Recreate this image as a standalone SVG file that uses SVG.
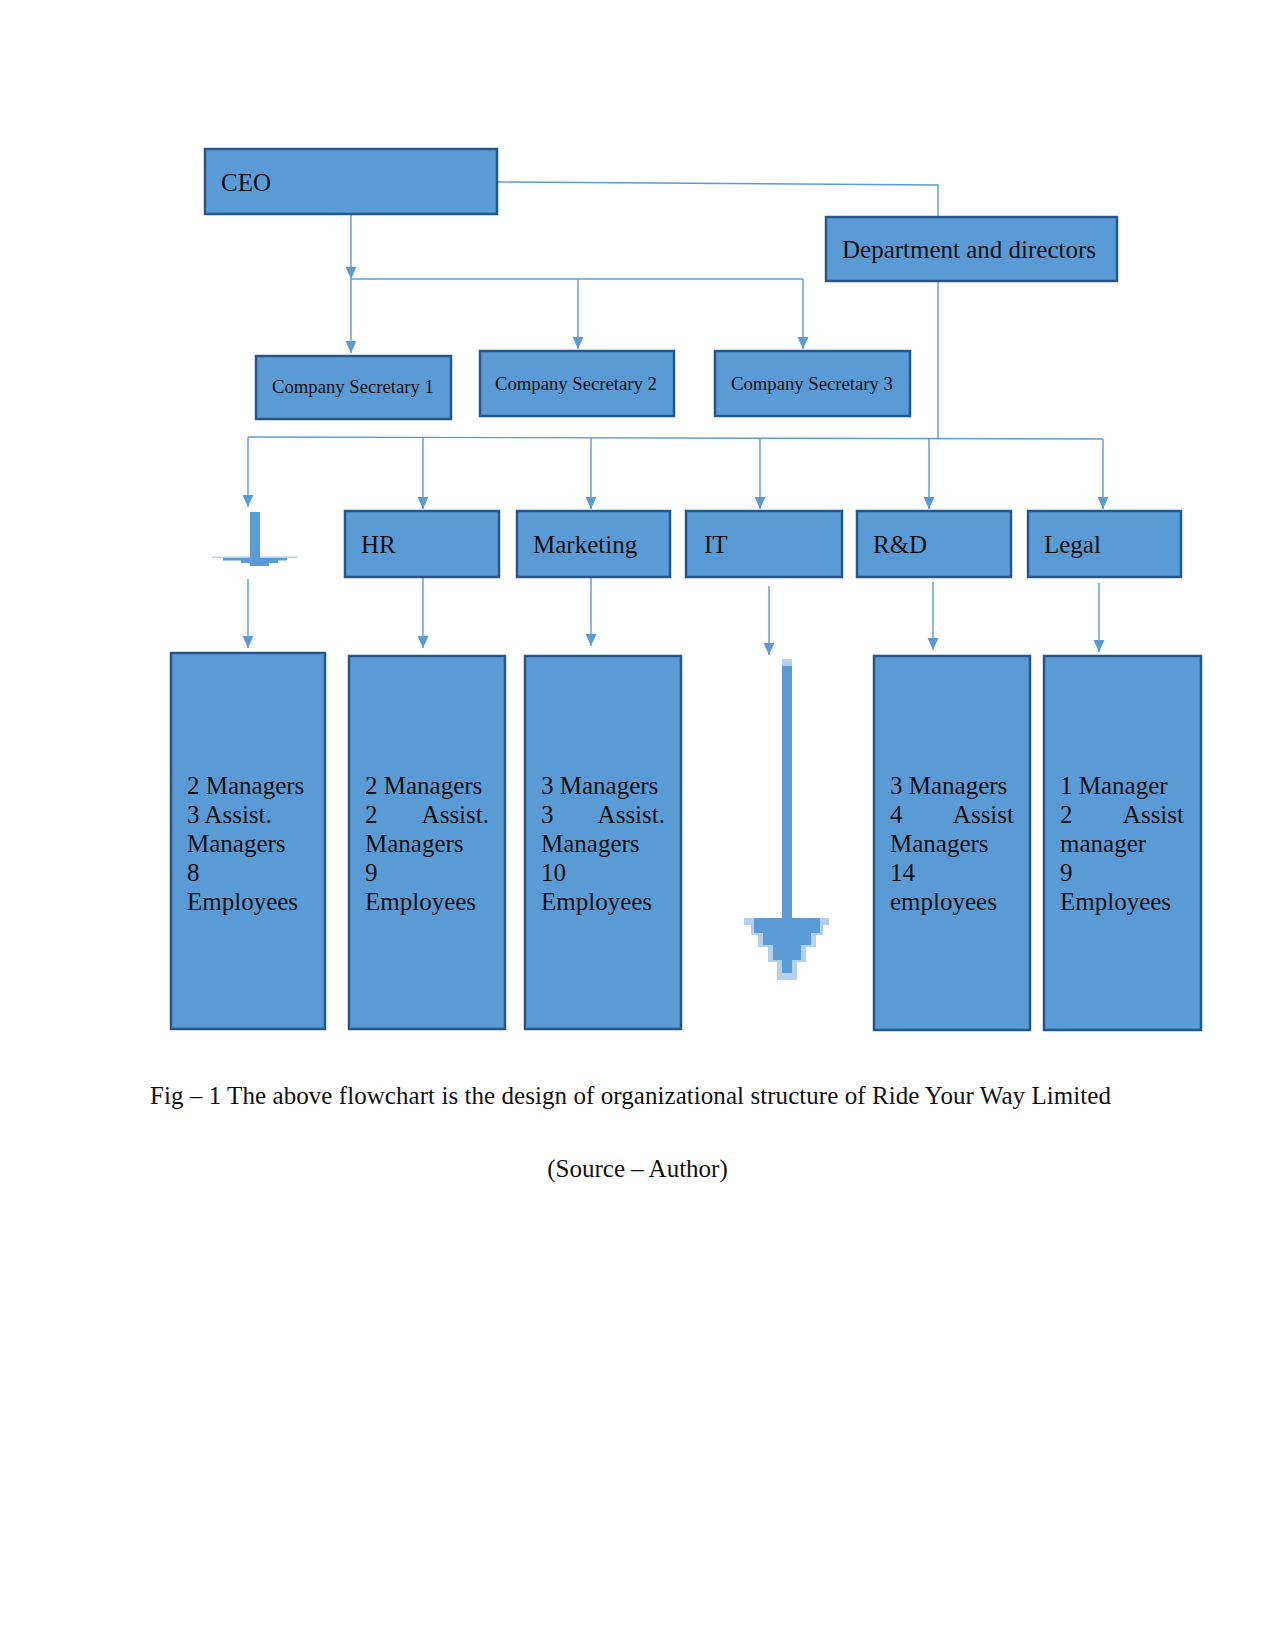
<svg xmlns="http://www.w3.org/2000/svg" width="1275" height="1650" viewBox="0 0 1275 1650">
<style>
.box{fill:#5b9bd5;stroke:#25578a;stroke-width:2.5}
.t{font-family:"Liberation Serif","Times New Roman",serif;font-size:25px;fill:#111}
.ts{font-family:"Liberation Serif","Times New Roman",serif;font-size:18.7px;fill:#111}
.c{fill:none;stroke:#5b9bd5;stroke-width:1.4}
.a{marker-end:url(#arr)}
.big{fill:#5b9bd5}
.lt{fill:#b5d0ec}
</style>
<defs>
<marker id="arr" markerUnits="userSpaceOnUse" viewBox="0 -6 12 12" refX="12" refY="0" markerWidth="12" markerHeight="12" orient="auto">
<path d="M0,-5.5 L12,0 L0,5.5 z" fill="#5b9bd5"/>
</marker>
</defs>
<rect width="1275" height="1650" fill="#fff"/>

<g id="connectors">
<path class="c" d="M497,182 L938,185 L938,217"/>
<path class="c a" d="M351,214 L351,279"/>
<path class="c a" d="M351,279 L351,353"/>
<path class="c" d="M351,279 L803,279"/>
<path class="c a" d="M578,279 L578,349"/>
<path class="c a" d="M803,279 L803,349"/>
<path class="c" d="M938,281 L938,438"/>
<path class="c" d="M248,437 L1103,439"/>
<path class="c a" d="M248,437 L248,507"/>
<path class="c a" d="M423,437 L423,509"/>
<path class="c a" d="M591,438 L591,509"/>
<path class="c a" d="M760,438 L760,509"/>
<path class="c a" d="M929,438 L929,509"/>
<path class="c a" d="M1103,439 L1103,509"/>
<path class="c a" d="M248,579 L248,648"/>
<path class="c a" d="M423,577 L423,648"/>
<path class="c a" d="M591,577 L591,646"/>
<path class="c a" d="M769,586 L769,655"/>
<path class="c a" d="M933,582 L933,650"/>
<path class="c a" d="M1099,583 L1099,652"/>
</g>

<g id="ceo"><rect class="box" x="205" y="149" width="292" height="65"/><text class="t" x="221" y="191">CEO</text></g>
<g id="dept-directors"><rect class="box" x="826" y="217" width="291" height="64"/><text class="t" x="842" y="258">Department and directors</text></g>
<g id="cs1"><rect class="box" x="256" y="356" width="195" height="63"/><text class="ts" x="272" y="393">Company Secretary 1</text></g>
<g id="cs2"><rect class="box" x="480" y="351" width="194" height="65"/><text class="ts" x="495" y="390">Company Secretary 2</text></g>
<g id="cs3"><rect class="box" x="715" y="351" width="195" height="65"/><text class="ts" x="731" y="390">Company Secretary 3</text></g>

<g id="blank-dept">
<rect class="lt" x="212" y="556.5" width="85" height="1.5"/>
<path class="big" d="M250,512 L260,512 L260,558 L287,558 L287,560.5 L278,560.5 L278,563 L269,563 L269,566 L250,566 L250,563 L241,563 L241,560.5 L232,560.5 L232,560.5 L223,560.5 L223,558 L250,558 z"/>
</g>
<g id="hr"><rect class="box" x="345" y="511" width="154" height="66"/><text class="t" x="361" y="553">HR</text></g>
<g id="marketing"><rect class="box" x="517" y="511" width="153" height="66"/><text class="t" x="533" y="553">Marketing</text></g>
<g id="it"><rect class="box" x="686" y="511" width="156" height="66"/><text class="t" x="704" y="553">IT</text></g>
<g id="rd"><rect class="box" x="857" y="511" width="154" height="66"/><text class="t" x="873" y="553">R&amp;D</text></g>
<g id="legal"><rect class="box" x="1028" y="511" width="153" height="66"/><text class="t" x="1044" y="553">Legal</text></g>

<g id="staff-1"><rect class="box" x="171" y="653" width="154" height="376"/>
<text class="t" x="187" y="794">2 Managers</text>
<text class="t" x="187" y="823">3 Assist.</text>
<text class="t" x="187" y="852">Managers</text>
<text class="t" x="187" y="881">8</text>
<text class="t" x="187" y="910">Employees</text></g>
<g id="staff-hr"><rect class="box" x="349" y="656" width="156" height="373"/>
<text class="t" x="365" y="794">2 Managers</text>
<text class="t" x="365" y="823">2</text><text class="t" x="489" y="823" text-anchor="end">Assist.</text>
<text class="t" x="365" y="852">Managers</text>
<text class="t" x="365" y="881">9</text>
<text class="t" x="365" y="910">Employees</text></g>
<g id="staff-marketing"><rect class="box" x="525" y="656" width="156" height="373"/>
<text class="t" x="541" y="794">3 Managers</text>
<text class="t" x="541" y="823">3</text><text class="t" x="665" y="823" text-anchor="end">Assist.</text>
<text class="t" x="541" y="852">Managers</text>
<text class="t" x="541" y="881">10</text>
<text class="t" x="541" y="910">Employees</text></g>
<g id="staff-it">
<rect class="lt" x="782" y="659" width="10" height="7"/>
<rect class="big" x="782" y="666" width="10" height="252"/>
<rect class="lt" x="744" y="918" width="85" height="7"/>
<path class="lt" d="M751,925 L823,925 L823,935 L816,935 L816,947 L806,947 L806,962 L797,962 L797,980 L777,980 L777,962 L768,962 L768,947 L758,947 L758,935 L751,935 z"/>
<path class="big" d="M782,918 L792,918 L792,918 L820,918 L820,933 L811,933 L811,945 L801,945 L801,960 L792,960 L792,973 L782,973 L782,960 L773,960 L773,945 L763,945 L763,933 L754,933 L754,918 z"/>
</g>
<g id="staff-rd"><rect class="box" x="874" y="656" width="156" height="374"/>
<text class="t" x="890" y="794">3 Managers</text>
<text class="t" x="890" y="823">4</text><text class="t" x="1014" y="823" text-anchor="end">Assist</text>
<text class="t" x="890" y="852">Managers</text>
<text class="t" x="890" y="881">14</text>
<text class="t" x="890" y="910">employees</text></g>
<g id="staff-legal"><rect class="box" x="1044" y="656" width="157" height="374"/>
<text class="t" x="1060" y="794">1 Manager</text>
<text class="t" x="1060" y="823">2</text><text class="t" x="1184" y="823" text-anchor="end">Assist</text>
<text class="t" x="1060" y="852">manager</text>
<text class="t" x="1060" y="881">9</text>
<text class="t" x="1060" y="910">Employees</text></g>

<text class="t" x="150" y="1104" textLength="961" lengthAdjust="spacing">Fig – 1 The above flowchart is the design of organizational structure of Ride Your Way Limited</text>
<text class="t" x="637.5" y="1177" text-anchor="middle">(Source – Author)</text>
</svg>
